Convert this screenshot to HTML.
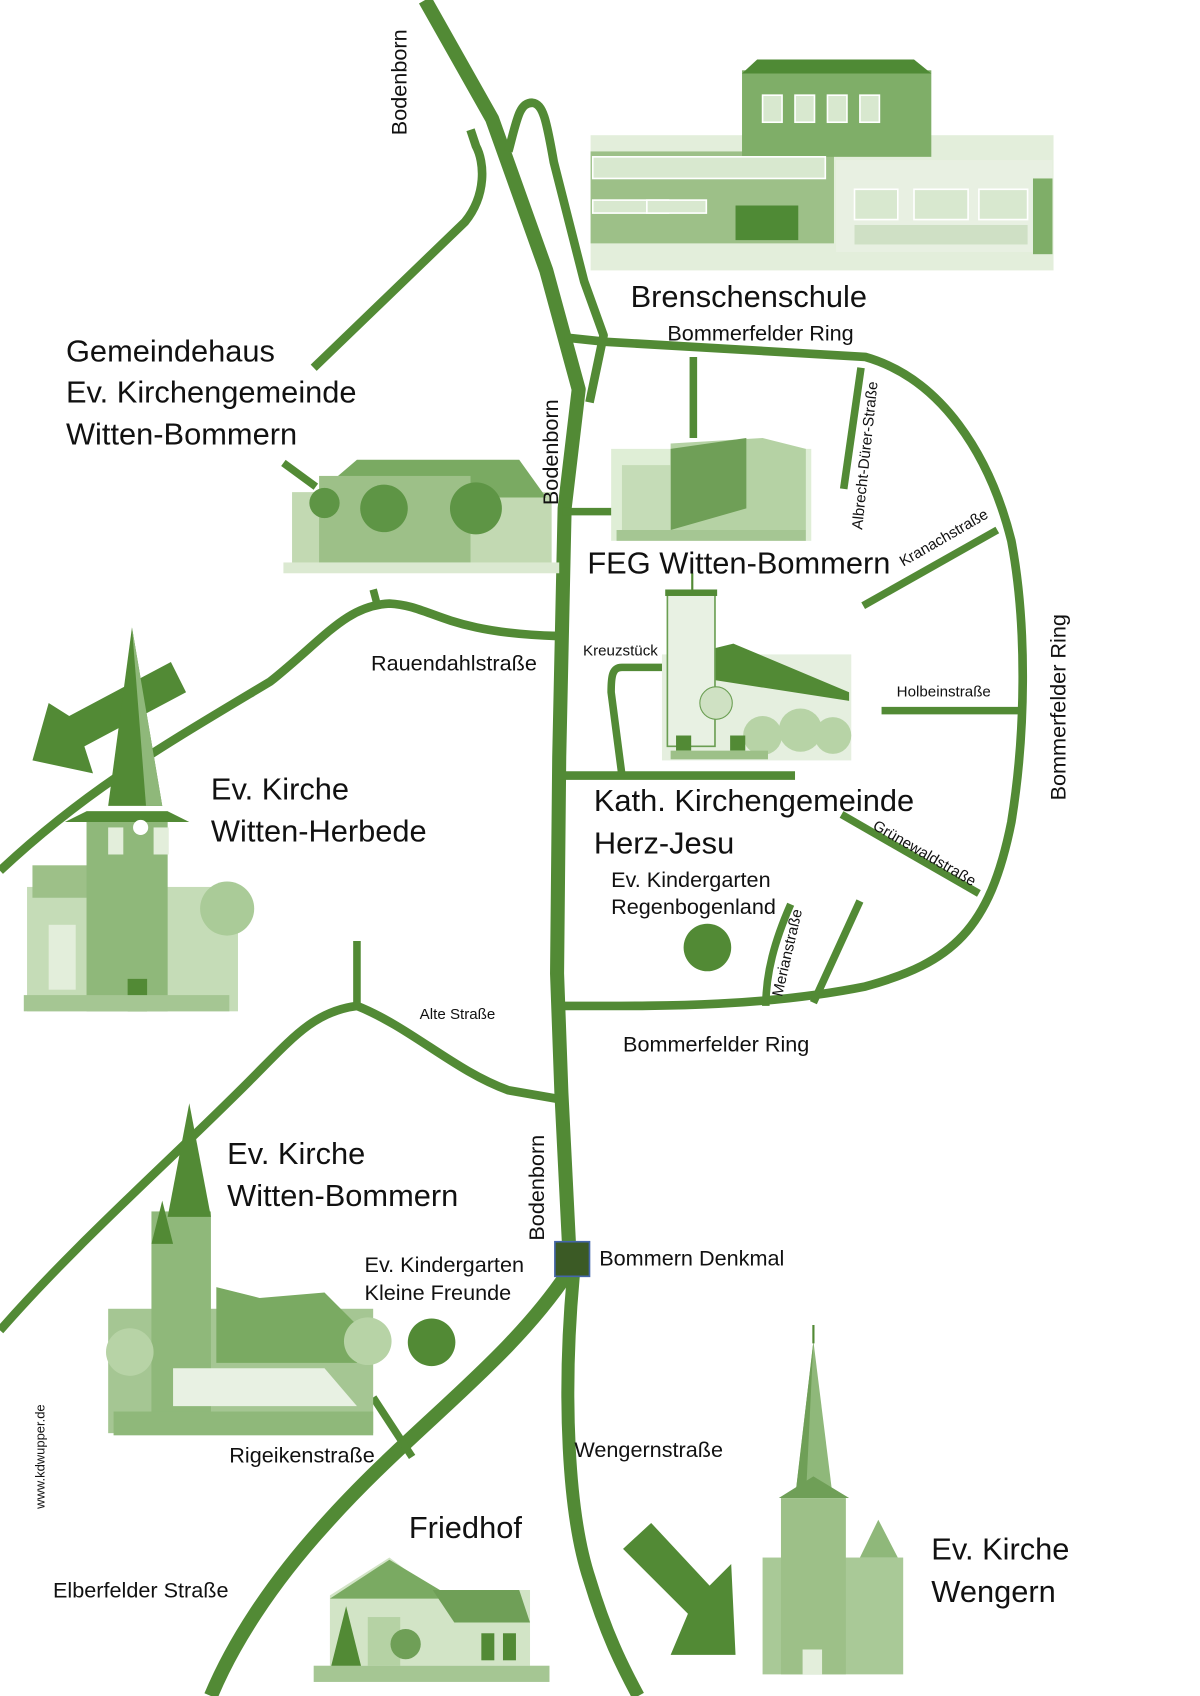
<!DOCTYPE html>
<html><head><meta charset="utf-8"><style>
html,body{margin:0;padding:0;background:#fff}
svg{display:block}
text{font-family:"Liberation Sans","DejaVu Sans",sans-serif;fill:#111}
</style></head><body>
<svg width="1200" height="1696" viewBox="0 0 1109.4 1568" preserveAspectRatio="none" xmlns="http://www.w3.org/2000/svg">
<rect width="1109.4" height="1568" fill="#fff"/>
<g fill="none" stroke="#528a35" stroke-linecap="butt" stroke-linejoin="round">
<path d="M393,0 L455,110 L505,250 L535,360 L522,470 L517,700 L515,900 L519,1010 L526,1150" stroke-width="13"/>
<path d="M526,1175 C470,1260 380,1320 300,1410 C250,1465 215,1520 195,1568" stroke-width="13"/>
<path d="M530,1180 C520,1290 525,1400 545,1460 C560,1510 575,1540 590,1568" stroke-width="12"/>
<path d="M290,340 L430,205 C450,180 448,150 440,135 L435,120" stroke-width="8"/>
<path d="M470,140 C478,110 480,95 492,95 C502,96 505,110 512,150 L540,260 L558,310 L545,372" stroke-width="8"/>
<path d="M522,312 L560,316 L800,330 C870,350 915,420 935,500 C950,580 948,680 935,760 C915,860 880,890 800,912 C700,932 600,930 518,930" stroke-width="8"/>
<path d="M641,330 L641,405" stroke-width="7"/>
<path d="M796,340 L780,452" stroke-width="7"/>
<path d="M798,560 L922,490" stroke-width="7"/>
<path d="M815,657 L945,657" stroke-width="7"/>
<path d="M778,753 L905,826" stroke-width="7"/>
<path d="M731,836 C716,870 708,900 708,930" stroke-width="7"/>
<path d="M795,833 L752,927" stroke-width="7"/>
<path d="M518,717 L735,717" stroke-width="8"/>
<path d="M616,617 L575,617 C566,617 565,625 565,640 L575,717" stroke-width="7"/>
<path d="M520,473 L570,473" stroke-width="7"/>
<path d="M262,428 L292,450" stroke-width="7"/>
<path d="M0,805 C80,730 150,690 250,630 C300,590 320,560 360,558 C400,560 410,585 515,588" stroke-width="8"/>
<path d="M345,545 L349,560" stroke-width="7"/>
<path d="M0,1230 C70,1150 150,1080 230,1000 C270,960 290,935 330,930 C380,950 420,990 470,1008 L516,1016" stroke-width="8"/>
<path d="M330,870 L330,930" stroke-width="7"/>
<path d="M345,1292 L381,1347" stroke-width="7"/>
</g>
<polygon points="158,612 172,640 78,690 86,715 30,703 45,650 64,662" fill="#528a35"/>
<polygon points="576,1432 602,1408 656,1466 676,1446 680,1530 620,1530 636,1492" fill="#528a35"/>
<rect x="513" y="1148" width="32" height="32" fill="#3b5a25" stroke="#4466aa" stroke-width="1.5"/>
<circle cx="654" cy="876" r="22" fill="#528a35"/>
<circle cx="399" cy="1241" r="22" fill="#528a35"/>

<g>
<rect x="546" y="125" width="428" height="125" fill="#e3eedb"/>
<rect x="546" y="140" width="225" height="85" fill="#9dc088"/>
<rect x="686" y="65" width="175" height="80" fill="#7fae68"/>
<polygon points="686,68 700,55 845,55 861,68" fill="#4f8a35"/>
<rect x="773" y="148" width="200" height="85" fill="#e8f0e2"/>
<rect x="955" y="165" width="18" height="70" fill="#7fae68"/>
<g fill="#d8e8cf" stroke="#fff" stroke-width="1.5">
<rect x="548" y="145" width="215" height="20"/>
<rect x="705" y="88" width="18" height="25"/><rect x="735" y="88" width="18" height="25"/><rect x="765" y="88" width="18" height="25"/><rect x="795" y="88" width="18" height="25"/>
<rect x="790" y="175" width="40" height="28"/><rect x="845" y="175" width="50" height="28"/><rect x="905" y="175" width="45" height="28"/>
<rect x="548" y="185" width="70" height="12"/><rect x="598" y="185" width="55" height="12"/>
</g>
<rect x="680" y="190" width="58" height="32" fill="#4f8a35"/>
<rect x="790" y="208" width="160" height="18" fill="#cfe0c5"/>
</g>
<g>
<rect x="565" y="415" width="185" height="85" fill="#dfeed6"/>
<polygon points="620,410 705,405 745,415 745,490 620,495" fill="#b5d2a4"/>
<polygon points="620,415 690,405 690,470 620,490" fill="#6f9f57"/>
<rect x="575" y="430" width="45" height="60" fill="#c5dcb7"/>
<rect x="570" y="490" width="175" height="10" fill="#a5c693"/>
</g>
<g>
<rect x="270" y="455" width="240" height="70" fill="#c2d9b2"/>
<polygon points="295,455 330,425 480,425 505,460 295,460" fill="#7aaa62"/>
<rect x="295" y="440" width="140" height="80" fill="#9dc088"/>
<circle cx="355" cy="470" r="22" fill="#5e9545"/><circle cx="440" cy="470" r="24" fill="#5e9545"/><circle cx="300" cy="465" r="14" fill="#5e9545"/>
<rect x="262" y="520" width="255" height="10" fill="#dbe9d1"/>
</g>
<g>
<rect x="612" y="605" width="175" height="98" fill="#e5efdf"/>
<polygon points="617,610 678,595 785,640 785,648 617,622" fill="#528a35"/>
<rect x="617" y="550" width="44" height="140" fill="#e8f1e3" stroke="#6a9e52" stroke-width="1.5"/>
<rect x="615" y="545" width="48" height="6" fill="#528a35"/>
<line x1="640" y1="530" x2="640" y2="545" stroke="#528a35" stroke-width="2"/>
<circle cx="662" cy="650" r="15" fill="#cfe1c3" stroke="#6a9e52"/>
<circle cx="705" cy="680" r="18" fill="#b7d3a6"/><circle cx="740" cy="675" r="20" fill="#b7d3a6"/><circle cx="770" cy="680" r="17" fill="#b7d3a6"/>
<rect x="625" y="680" width="14" height="14" fill="#528a35"/><rect x="675" y="680" width="14" height="14" fill="#528a35"/>
<rect x="620" y="694" width="90" height="8" fill="#9dc088"/>
</g>
<g>
<rect x="25" y="820" width="195" height="115" fill="#c5dcb7"/>
<rect x="30" y="800" width="60" height="30" fill="#9dc088"/>
<rect x="80" y="750" width="75" height="185" fill="#8fb87a"/>
<polygon points="80,750 155,750 175,760 60,760" fill="#528a35"/>
<polygon points="122,580 100,745 150,745" fill="#528a35"/>
<polygon points="122,580 150,745 135,745" fill="#8fb87a"/>
<rect x="100" y="765" width="14" height="25" fill="#e3eedb"/><rect x="142" y="765" width="14" height="25" fill="#e3eedb"/>
<circle cx="130" cy="765" r="7" fill="#fff"/>
<rect x="45" y="855" width="25" height="60" fill="#e3eedb"/>
<rect x="118" y="905" width="18" height="30" fill="#528a35"/>
<circle cx="210" cy="840" r="25" fill="#aacb98"/>
<rect x="22" y="920" width="190" height="15" fill="#a5c693"/>
</g>
<g>
<rect x="100" y="1210" width="245" height="115" fill="#a5c693"/>
<polygon points="200,1190 240,1200 300,1195 330,1225 330,1260 200,1260" fill="#7aaa62"/>
<rect x="140" y="1120" width="55" height="200" fill="#8fb87a"/>
<polygon points="175,1020 155,1125 195,1125" fill="#528a35"/>
<polygon points="140,1150 150,1110 160,1150" fill="#528a35"/>
<circle cx="120" cy="1250" r="22" fill="#b7d3a6"/><circle cx="340" cy="1240" r="22" fill="#b7d3a6"/>
<polygon points="160,1265 300,1265 330,1300 160,1300" fill="#e8f1e3"/>
<rect x="105" y="1305" width="240" height="22" fill="#8fb87a"/>
</g>
<g>
<polygon points="305,1475 360,1440 400,1470 490,1470 490,1540 305,1540" fill="#d2e4c6"/>
<polygon points="305,1478 360,1442 420,1478" fill="#7aaa62"/>
<polygon points="400,1470 480,1470 490,1500 420,1500" fill="#6f9f57"/>
<rect x="340" y="1495" width="30" height="45" fill="#b5d2a4"/>
<rect x="445" y="1510" width="12" height="25" fill="#528a35"/><rect x="465" y="1510" width="12" height="25" fill="#528a35"/>
<polygon points="305,1545 320,1485 335,1545" fill="#528a35"/>
<circle cx="375" cy="1520" r="14" fill="#6f9f57"/>
<rect x="290" y="1540" width="218" height="15" fill="#a5c693"/>
</g>
<g>
<rect x="705" y="1440" width="130" height="108" fill="#a9c997"/>
<rect x="722" y="1385" width="60" height="163" fill="#9dc088"/>
<polygon points="752,1240 735,1385 770,1385" fill="#8fb87a"/>
<polygon points="752,1240 735,1385 745,1385" fill="#6f9f57"/>
<polygon points="720,1385 752,1365 785,1385" fill="#6f9f57"/>
<polygon points="795,1440 812,1405 830,1440" fill="#8fb87a"/>
<line x1="752" y1="1225" x2="752" y2="1242" stroke="#528a35" stroke-width="2"/>
<rect x="742" y="1525" width="18" height="23" fill="#e3eedb"/>
</g>

<g font-size="28.5">
<text x="583" y="284">Brenschenschule</text>
<text x="61" y="334">Gemeindehaus</text>
<text x="61" y="372">Ev. Kirchengemeinde</text>
<text x="61" y="411">Witten-Bommern</text>
<text x="543" y="530">FEG Witten-Bommern</text>
<text x="195" y="739">Ev. Kirche</text>
<text x="195" y="778">Witten-Herbede</text>
<text x="549" y="750">Kath. Kirchengemeinde</text>
<text x="549" y="789">Herz-Jesu</text>
<text x="210" y="1076">Ev. Kirche</text>
<text x="210" y="1115">Witten-Bommern</text>
<text x="378" y="1422">Friedhof</text>
<text x="861" y="1442">Ev. Kirche</text>
<text x="861" y="1481">Wengern</text>
</g>
<g font-size="20">
<text x="617" y="315">Bommerfelder Ring</text>
<text x="343" y="620">Rauendahlstraße</text>
<text x="565" y="820">Ev. Kindergarten</text>
<text x="565" y="845">Regenbogenland</text>
<text x="576" y="972">Bommerfelder Ring</text>
<text x="554" y="1170">Bommern Denkmal</text>
<text x="337" y="1176">Ev. Kindergarten</text>
<text x="337" y="1202">Kleine Freunde</text>
<text x="212" y="1352">Rigeikenstraße</text>
<text x="531" y="1347">Wengernstraße</text>
<text x="49" y="1477">Elberfelder Straße</text>
<text transform="translate(376,125) rotate(-90)">Bodenborn</text>
<text transform="translate(516,467) rotate(-90)">Bodenborn</text>
<text transform="translate(503,1147) rotate(-90)">Bodenborn</text>
<text transform="translate(985,740) rotate(-90)">Bommerfelder Ring</text>
</g>
<g font-size="14">
<text x="539" y="606">Kreuzstück</text>
<text x="829" y="644">Holbeinstraße</text>
<text x="388" y="942">Alte Straße</text>
<text transform="translate(797,490) rotate(-84)">Albrecht-Dürer-Straße</text>
<text transform="translate(835,524) rotate(-30)">Kranachstraße</text>
<text transform="translate(806,766) rotate(30)">Grünewaldstraße</text>
<text transform="translate(723,922) rotate(-77)">Merianstraße</text>
<text transform="translate(41,1395) rotate(-90)" font-size="12">www.kdwupper.de</text>
</g>
</svg>
</body></html>
